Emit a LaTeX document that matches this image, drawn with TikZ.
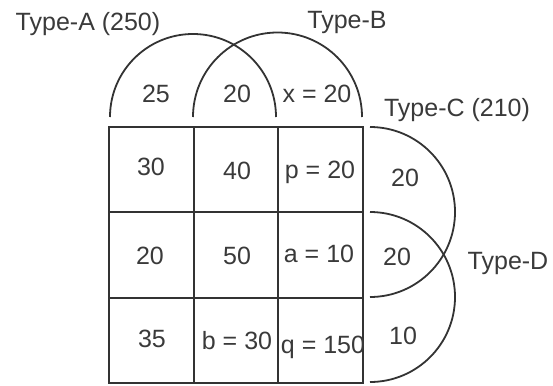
\documentclass[tikz,border=0pt]{standalone}
\usepackage{fontspec}
\setmainfont{Liberation Sans}
\definecolor{ink}{HTML}{333333}
\definecolor{txt}{HTML}{3A3A3A}
\begin{document}
\begin{tikzpicture}[x=1pt,y=-1pt,
  line/.style={draw=ink,line width=1.8pt},
  lbl/.style={text=txt,font=\fontsize{25}{30}\selectfont,inner sep=0pt}]
\useasboundingbox (0,0) rectangle (553,385);
% grid
\draw[line] (109,127) rectangle (363,383);
\draw[line] (194,127) -- (194,383);
\draw[line] (278,127) -- (278,383);
\draw[line] (109,212) -- (363,212);
\draw[line] (109,298) -- (363,298);
% top arcs (Type-A, Type-B)
\draw[line] (110,117) arc[start angle=180,end angle=360,radius=83];
\draw[line] (193,117) arc[start angle=180,end angle=360,radius=84.5];
% right arcs (Type-C, Type-D)
\draw[line] (370,127) arc[start angle=-90,end angle=90,radius=85];
\draw[line] (370,212) arc[start angle=-90,end angle=90,radius=85];
% set labels
\node[lbl] (tA) at (88,24) {Type-A (250)};
\node[lbl] (tB) at (347,22) {Type-B};
\node[lbl] (tC) at (457,110) {Type-C (210)};
\node[lbl] (tD) at (508,263) {Type-D};
% top region
\node[lbl] (n25) at (156,94) {25};
\node[lbl] (n20t) at (237,94) {20};
\node[lbl] (nx) at (317,94) {x = 20};
% grid cells
\node[lbl] (c11) at (151,167) {30};
\node[lbl] (c12) at (237,171) {40};
\node[lbl] (c13) at (320,172) {p = 20};
\node[lbl] (c21) at (150,256) {20};
\node[lbl] (c22) at (237,256) {50};
\node[lbl] (c23) at (319,254) {a = 10};
\node[lbl] (c31) at (152,339) {35};
\node[lbl] (c32) at (237,341) {b = 30};
\node[lbl] (c33) at (323,347) {q = 150};
% right region
\node[lbl] (r1) at (405,178) {20};
\node[lbl] (r2) at (397,257) {20};
\node[lbl] (r3) at (403,336) {10};
\end{tikzpicture}
\end{document}
